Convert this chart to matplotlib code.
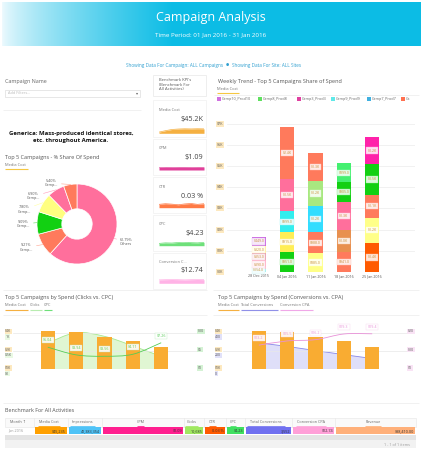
import numpy as np
import matplotlib
matplotlib.use('Agg')
import matplotlib.pyplot as plt
from matplotlib.patches import Rectangle, PathPatch
from matplotlib.path import Path
from matplotlib.colors import to_rgb

plt.rcParams['font.family'] = ['Open Sans', 'DejaVu Sans']

W, H = 422, 450

# ---------------- data ----------------
pie_pct = [61.79, 9.21, 9.09, 7.80, 6.90, 5.40]
pie_names = ['Others', 'Camp...', 'Camp...', 'Camp...', 'Camp...', 'Camp...']
pie_colors = ['#ff6f9c', '#ff7a5c', '#12d012', '#ffff80', '#ff6f9c', '#ff7a5c']

kpi_names = ['Media Cost', 'CPM', 'CTR', 'CPC', 'Conversion C...']
kpi_values = ['$45.2K', '$1.09', '0.03 %', '$4.23', '$12.74']
kpi_colors = ['#f5b041', '#e0409a', '#ff7a45', '#6ee07a', '#ffb3e6']
kpi_spark = [
    [0.25, 0.55, 0.8, 0.9, 0.95, 0.92, 0.96, 0.93],
    [0.9, 1.0, 0.95, 1.0, 1.0, 0.95, 1.0, 0.98],
    [0.8, 0.95, 0.85, 0.7, 0.9, 1.0, 0.8, 0.95],
    [0.6, 0.75, 0.7, 0.85, 1.0, 0.8, 0.75, 0.9],
    [0.9, 0.95, 1.0, 0.95, 0.9, 0.95, 1.0, 0.95],
]

week_labels = ['28 Dec 2015', '04 Jan 2016', '11 Jan 2016', '18 Jan 2016', '25 Jan 2016']
week_vals = [
    [154, 390, 353, 320, 449],
    [951, 915, 999, 1540, 2440],
    [885, 988, 1230, 1200, 1300],
    [941, 1040, 1340, 905, 899],
    [1380, 1180, 1080, 1460, 1250],
]
week_cols = [
    ['#a0f0f0', '#ffb0c8', '#e8a0b0', '#fff0a0', '#c864e0'],
    ['#13d013', '#ffee55', '#33eeee', '#ff6f9c', '#ff7a5c'],
    ['#ffff88', '#ff7a5c', '#33ddff', '#a8e880', '#ff7a5c'],
    ['#ff7a5c', '#e8904f', '#ff6f9c', '#13d013', '#44f070'],
    ['#ff5a00', '#ffff88', '#ff7a5c', '#13d013', '#ff22aa'],
]
legend_names = ['Camp10_Prod10', 'Camp8_Prod8', 'Camp3_Prod3', 'Camp9_Prod9', 'Camp7_Prod7', 'Ca']
legend_cols = ['#d070e0', '#60e060', '#e040a0', '#60e8e8', '#40b0e0', '#ff7050']

top5_names = ['Camp10_P...', 'Camp4_Pro...', 'Camp14_P...', 'Camp12_P...', 'Camp3_Pro...']
top5_cost = [4.16, 4.11, 3.53, 3.12, 2.44]      # $K
top5_clicks = [0.72, 1.00, 0.90, 0.64, 0.35]    # K
top5_cpc = [6.04, 3.94, 3.56, 4.11, 7.26]
top5_conv = [290, 250, 205, 160, 118]
top5_cpa = [13.2, 15.5, 16.2, 19.3, 19.4]

table_cols = ['Month \u2191', 'Media Cost', 'Impressions', 'CPM', 'Clicks', 'CTR', 'CPC',
              'Total Conversions', 'Conversion CPA', 'Revenue']
table_row = ['Jan 2016', '$45,235', '41,383,354', '$1.09', '10,685', '0.03 %', '$4.23',
             '3,552', '$12.74', '$98,410.00']
table_colors = [None, '#ffa000', '#4fc3f7', '#ff1f8f', '#a0e860', '#ff5a00', '#40e060',
                '#7070f0', '#ffa0d8', '#ffb07a']
table_edges = [5, 34, 68, 102, 184, 204, 226, 245, 292, 335, 416]

ORANGE = '#f9ac32'
TITLE = 4.0


def rect(x0, y0, x1, y1):
    return [x0 / W, 1 - y1 / H, (x1 - x0) / W, (y1 - y0) / H]


def mix(c, t):
    r = np.array(to_rgb(c))
    return tuple(r + (1 - r) * t)


def smooth(xs, ys, close=False):
    pts = list(zip(xs, ys))
    verts = [pts[0]]
    codes = [Path.MOVETO]
    n = len(pts)
    for i in range(n - 1):
        p0, p1 = pts[max(i - 1, 0)], pts[i]
        p2, p3 = pts[i + 1], pts[min(i + 2, n - 1)]
        c1 = (p1[0] + (p2[0] - p0[0]) / 6, p1[1] + (p2[1] - p0[1]) / 6)
        c2 = (p2[0] - (p3[0] - p1[0]) / 6, p2[1] - (p3[1] - p1[1]) / 6)
        verts += [c1, c2, p2]
        codes += [Path.CURVE4] * 3
    if close:
        verts += [(xs[-1], 0), (xs[0], 0), (xs[0], 0)]
        codes += [Path.LINETO, Path.LINETO, Path.CLOSEPOLY]
    return Path(verts, codes)


fig = plt.figure(figsize=(W / 100, H / 100), dpi=100)
ov = fig.add_axes([0, 0, 1, 1])
ov.axis('off')


def txt(x, y, s, size=3.6, color='#555', **kw):
    kw.setdefault('va', 'center')
    ov.text(x, y, s, fontsize=size, color=color, **kw)


def hline(y, x0, x1, color='#ececec', lw=0.5):
    ov.plot([x0, x1], [y, y], color=color, lw=lw, solid_capstyle='butt')


def box(x0, y0, x1, y1, fc='none', ec='#e8e8e8', lw=0.5, **kw):
    ov.add_patch(Rectangle((x0, y0), x1 - x0, y1 - y0, fc=fc, ec=ec, lw=lw, **kw))


# ---------------- header ----------------
xs = np.linspace(0, 1, 400)
t = np.clip(xs * 419 / 170, 0, 1) ** 0.75
c0 = np.array([0.93, 0.98, 0.995])
c1 = np.array([0.05, 0.74, 0.90])
grad = c0 + (c1 - c0) * t[:, None]
ov.imshow(grad[None, :, :], extent=(2, 421, 46, 2), aspect='auto', interpolation='bilinear')
ov.set_xlim(0, W)
ov.set_ylim(H, 0)
txt(211, 18, 'Campaign Analysis', size=9, color='white', ha='center')
txt(211, 34.5, 'Time Period: 01 Jan 2016 - 31 Jan 2016', size=4.5, color='white', ha='center')
txt(223, 65, 'Showing Data For Campaign: ALL Campaigns', size=3.3, color='#2e9fd0', ha='right')
txt(227, 65, '\u25cf', size=2.6, color='#2e9fd0', ha='center')
txt(232, 65, 'Showing Data For Site: ALL Sites', size=3.3, color='#2e9fd0', ha='left')

# ---------------- left column ----------------
txt(5, 81.7, 'Campaign Name', size=3.9, color='#666')
box(5, 89.5, 140, 97, ec='#dddddd')
txt(8, 93.3, 'Add Filters...', size=2.8, color='#bbbbbb')
txt(137, 93.3, '\u25be', size=3, color='#666', ha='center')
hline(109.5, 3, 141)
txt(71, 133.3, 'Generica: Mass-produced identical stores,', size=4.3, color='#111',
    ha='center', fontweight='bold')
txt(71, 140.7, 'etc. throughout America.', size=4.3, color='#111', ha='center', fontweight='bold')

txt(5, 157.3, 'Top 5 Campaigns - % Share Of Spend', size=TITLE, color='#555')
txt(5, 165, 'Media Cost', size=2.9, color='#777')
hline(168.6, 5, 28, color='#f5c842', lw=0.8)

# donut
axp = fig.add_axes(rect(0, 175, 145, 275))
axp.pie(pie_pct, colors=pie_colors, startangle=90, counterclock=False, radius=1,
        wedgeprops=dict(width=0.62, edgecolor='white', linewidth=0.5))
axp.set_aspect('auto')
axp.set_xlim(-77 / 40, 68 / 40)
axp.set_ylim(-51 / 40, 49 / 40)
axp.axis('off')
pie_label_px = [(120, 241.8, 'left'), (33, 247.5, 'right'), (30, 224, 'right'),
                (31, 209.5, 'right'), (40, 196.3, 'right'), (58, 183.2, 'right')]
ang = 90.0
for pct, name, col, (lx, ly, ha) in zip(pie_pct, pie_names, pie_colors, pie_label_px):
    mid = np.radians(ang - pct * 3.6 / 2)
    ang -= pct * 3.6
    tx, ty = (lx - 77) / 40, (224 - ly) / 40
    axp.annotate('%.2f%%\n%s' % (pct, name), xy=(np.cos(mid), np.sin(mid)),
                 xytext=(tx, ty), ha=ha, va='center', fontsize=2.7, color='#555',
                 multialignment='center', linespacing=1.1,
                 arrowprops=dict(arrowstyle='-', color=mix(col, 0.3), lw=0.4,
                                 shrinkA=0.5, shrinkB=0))

# ---------------- KPI column ----------------
box(153, 75, 206, 96)
txt(159, 80, "Benchmark KPI's", size=3.0, color='#555')
txt(159, 84.5, '(Benchmark For', size=3.0, color='#555')
txt(159, 89, 'All Activities)', size=3.0, color='#555')
card_tops = [100, 139, 177, 215, 253]
card_bots = [137, 175, 213, 251, 289]
label_y = [110, 148.3, 186.7, 224, 261.7]
value_y = [119.3, 157.7, 196, 233.3, 270.7]
spark_box = [(128.3, 133.3), (166.7, 170), (203.3, 207.7), (241.7, 245.7), (279.3, 283.3)]
for i in range(5):
    box(153, card_tops[i], 206, card_bots[i], ec='#f0f0f0')
    txt(159, label_y[i], kpi_names[i], size=2.9, color='#777')
    txt(203.5, value_y[i], kpi_values[i], size=5.2, color='#444', ha='right')
    y0, y1 = spark_box[i]
    axs = fig.add_axes(rect(159, y0, 204, y1))
    sx = np.arange(len(kpi_spark[i]))
    axs.fill_between(sx, 0, kpi_spark[i], color=kpi_colors[i], lw=0)
    axs.plot(sx, kpi_spark[i], color=kpi_colors[i], lw=0.5)
    axs.set_xlim(0, len(sx) - 1)
    axs.set_ylim(0, 1.05)
    axs.axis('off')

# ---------------- weekly trend ----------------
txt(218, 81.7, 'Weekly Trend - Top 5 Campaigns Share of Spend', size=TITLE, color='#555')
txt(217, 89.3, 'Media Cost', size=2.9, color='#777')
hline(92.7, 217, 239, color='#f5c842', lw=0.8)
hline(94.5, 214, 419)
leg_x = [217, 258, 297, 331, 367, 401]
for lx, name, col in zip(leg_x, legend_names, legend_cols):
    ov.add_patch(Rectangle((lx, 97.3), 3.6, 3.6, fc=col, ec='none'))
    txt(lx + 5, 99.2, name, size=2.7, color='#666')

axw = fig.add_axes(rect(227, 121, 415, 272))
axw.set_facecolor('none')
for i, (vals, cols) in enumerate(zip(week_vals, week_cols)):
    bottom = 0.0
    for v, c in zip(vals, cols):
        k = v / 1000
        axw.bar(i, k, bottom=bottom, width=0.5, color=c, lw=0, zorder=2)
        lab = '$%.1fK' % k if v >= 1000 else '$%.1f' % v
        axw.text(i, bottom + k / 2, lab, ha='center', va='center', fontsize=2.5,
                 color='#c8903a', zorder=3,
                 bbox=dict(boxstyle='square,pad=0.35', fc=mix(c, 0.85), ec=mix(c, 0.55), lw=0.3))
        bottom += k
for g in range(8):
    axw.axhline(g, color='#ececec', lw=0.5, zorder=0)
    axw.annotate('$%dK' % g, xy=(0, g), xycoords=axw.get_yaxis_transform(),
                 xytext=(-7.2, 0), textcoords='offset points', ha='left', va='center',
                 fontsize=2.6, color='#555',
                 bbox=dict(boxstyle='square,pad=0.25', fc='#fde9c0', ec='none'))
axw.set_xlim(-1.12, 5.51)
axw.set_ylim(0, 151 / 21.2)
axw.set_xticks(range(5))
axw.set_xticklabels(week_labels, fontsize=2.6, color='#555')
axw.tick_params(length=0, pad=1.6)
axw.set_yticks([])
for s in axw.spines.values():
    s.set_visible(False)

# ---------------- bottom combos ----------------
hline(290, 3, 207)
hline(290, 213, 419)
txt(5, 297.3, 'Top 5 Campaigns by Spend (Clicks vs. CPC)', size=TITLE, color='#555')
txt(218, 297.3, 'Top 5 Campaigns by Spend (Conversions vs. CPA)', size=TITLE, color='#555')
for x0, x1, name, col in [(5, 28, 'Media Cost', '#f5b041'), (30, 42, 'Clicks', '#b8ecb0'),
                          (44, 52, 'CPC', '#6ee07a'), (218, 238.5, 'Media Cost', '#f5b041'),
                          (240.5, 277.5, 'Total Conversions', '#9090e8'),
                          (280, 313, 'Conversion CPA', '#f0a8e8')]:
    txt(x0, 305.3, name, size=2.9, color='#777')
    hline(309.5, x0, x1, color=col, lw=0.8)
hline(314.5, 3, 207)
hline(314.5, 213, 419)

px_per_k = 36.6 / 4
ytop = (369.3 - 326) / px_per_k


def combo(x0, x1, xlim, sec_vals, sec_scale, fill_col, line_col,
          third_vals, third_scale, third_col, third_labels, left_sub, right_labs, smooth_sec):
    ax = fig.add_axes(rect(x0, 326, x1, 369.3))
    ax_a = ax.twinx()
    ax_l = ax.twinx()
    ax_a.set_zorder(1)
    ax.set_zorder(2)
    ax_l.set_zorder(3)
    for a in (ax, ax_a, ax_l):
        a.patch.set_visible(False)
        a.set_xlim(*xlim)
        a.set_yticks([])
        for s in a.spines.values():
            s.set_visible(False)
    ax.set_ylim(0, ytop)
    ax_a.set_ylim(0, ytop * sec_scale)
    ax_l.set_ylim(0, ytop * third_scale)
    idx = np.arange(5)
    # secondary area
    if smooth_sec:
        p = smooth(idx, sec_vals, close=True)
        pl = smooth(idx, sec_vals)
    else:
        p = Path(list(zip(idx, sec_vals)) + [(4, 0), (0, 0), (0, 0)],
                 [Path.MOVETO] + [Path.LINETO] * 6 + [Path.CLOSEPOLY])
        pl = Path(list(zip(idx, sec_vals)))
    ax_a.add_patch(PathPatch(p, fc=fill_col, ec='none', alpha=0.55))
    ax_a.add_patch(PathPatch(pl, fc='none', ec=line_col, lw=0.6))
    # bars
    for g in (0, 2, 4):
        ax.axhline(g, color='#e8e8e8', lw=0.5, zorder=0)
    ax.bar(idx, top5_cost, width=0.5, color=ORANGE, lw=0, zorder=2)
    # third series line
    ax_l.add_patch(PathPatch(smooth(idx, third_vals), fc='none', ec=third_col, lw=0.6))
    for i, (v, lab) in enumerate(zip(third_vals, third_labels)):
        ax_l.annotate(lab, xy=(i, v), xytext=(0, 5), textcoords='offset points',
                      ha='center', va='center', fontsize=2.6, color=third_col,
                      bbox=dict(boxstyle='square,pad=0.3', fc='white', ec=mix(third_col, 0.6),
                                lw=0.3, alpha=0.9))
    # tick labels
    for g, (top_lab, sub_lab, rlab) in enumerate(zip(['$0K', '$2K', '$4K'], left_sub, right_labs)):
        v = g * 2
        ax.annotate(top_lab, xy=(0, v), xycoords=ax.get_yaxis_transform(), xytext=(-5.6, 0.9),
                    textcoords='offset points', ha='left', va='center', fontsize=2.5, color='#555',
                    bbox=dict(boxstyle='square,pad=0.2', fc='#fde9c0', ec='none'))
        ax.annotate(sub_lab, xy=(0, v), xycoords=ax.get_yaxis_transform(), xytext=(-5.6, -3.1),
                    textcoords='offset points', ha='left', va='center', fontsize=2.5, color='#555',
                    bbox=dict(boxstyle='square,pad=0.2', fc=mix(line_col, 0.75), ec='none'))
        ax.annotate(rlab, xy=(1, v), xycoords=ax.get_yaxis_transform(), xytext=(0.8, 0.9),
                    textcoords='offset points', ha='left', va='center', fontsize=2.5, color='#555',
                    bbox=dict(boxstyle='square,pad=0.2', fc=mix(third_col, 0.75), ec='none'))
    ax.set_xticks(idx)
    ax.set_xticklabels(top5_names, rotation=45, ha='right', rotation_mode='anchor',
                       fontsize=2.6, color='#555')
    ax.tick_params(length=0, pad=1.5)
    ax_a.set_xticks([])
    ax_l.set_xticks([])
    return ax


combo(13, 197, (-1.228, 5.263), top5_clicks, 0.25, '#c8f0b0', '#a8e890',
      top5_cpc, 2.5, '#55cc55', ['$%.2f' % v for v in top5_cpc],
      ['0K', '0.5K', '1K'], ['$0', '$5', '$10'], True)
combo(223, 407, (-1.263, 5.228), top5_conv, 100, '#c5c5f5', '#8888e8',
      top5_cpa, 5, '#e890d8', ['$%.1f' % v for v in top5_cpa],
      ['0', '200', '400'], ['$0', '$10', '$20'], False)

# ---------------- table ----------------
hline(403, 3, 419)
txt(5, 411, 'Benchmark For All Activities', size=3.9, color='#555')
box(5, 418, 416, 427, fc='#fafafa', ec='#e6e6e6', lw=0.4)
for j, (name, val, col) in enumerate(zip(table_cols, table_row, table_colors)):
    xa, xb = table_edges[j], table_edges[j + 1]
    if j > 0:
        ov.plot([xa, xa], [418, 427], color='#e6e6e6', lw=0.4)
    if j == 0:
        txt(10, 422.3, name, size=2.7, color='#666')
        txt(8, 430.8, val, size=2.7, color='#999')
    else:
        cx = (xa + xb) / 2 - 2.5
        txt(cx, 422.3, name, size=2.7, color='#666', ha='center')
        wlen = len(name) * 2.2
        hline(425.6, cx - wlen / 2, cx + wlen / 2, color=col, lw=0.6)
        ov.add_patch(Rectangle((xa + 0.6, 427.3), xb - xa - 1.2, 7, fc=col, ec='none'))
        txt(xb - 2, 430.8, val, size=2.7, color='#333', ha='right')
ov.add_patch(Rectangle((5, 434.5), 411, 5.5, fc='#e4e4e4', ec='none'))
ov.add_patch(Rectangle((5, 440), 411, 8, fc='#f2f2f2', ec='none'))
txt(410, 445.5, '1 - 1 of 1 items', size=2.7, color='#999', ha='right')

fig.savefig('out.png', dpi=100)
